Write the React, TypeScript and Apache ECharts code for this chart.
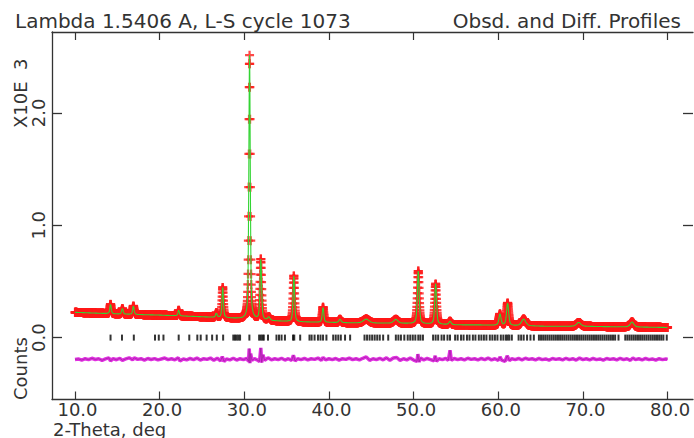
import React, { useEffect, useRef } from "react";
import * as echarts from "echarts";

const TITLE_LEFT = "Lambda 1.5406 A, L-S cycle 1073";
const TITLE_RIGHT = "Obsd. and Diff. Profiles";
const X_NAME = "2-Theta, deg";
const Y_NAME = "Counts";
const Y_SCALE = "X10E  3";

const xTicks = [10, 20, 30, 40, 50, 60, 70, 80];
const yTicks = [0, 1, 2];

// background level (2-theta, counts x10^3)
const bgTheta = [10, 15, 20, 25, 28, 30, 33, 36, 40, 43, 46, 50, 55, 58, 62, 66, 70, 75, 80];
const bgCounts = [0.225, 0.21, 0.2, 0.185, 0.175, 0.165, 0.15, 0.14, 0.135, 0.13, 0.128, 0.125, 0.113, 0.112, 0.105, 0.1, 0.1, 0.095, 0.09];

// Bragg peaks: position, height above background, FWHM
const peakTheta = [14.2, 15.6, 16.9, 22.25, 26.7, 27.45, 30.62, 31.95, 32.9, 35.85, 39.3, 41.3, 44.4, 47.9, 50.55, 52.6, 54.3, 60.2, 61.1, 63.0, 69.5, 75.8];
const peakHeight = [0.085, 0.05, 0.075, 0.05, 0.04, 0.27, 2.35, 0.54, 0.03, 0.41, 0.135, 0.03, 0.035, 0.035, 0.47, 0.36, 0.03, 0.1, 0.2, 0.06, 0.035, 0.045];
const peakFwhm = [0.2, 0.2, 0.2, 0.2, 0.2, 0.2, 0.2, 0.22, 0.3, 0.22, 0.22, 0.3, 0.8, 0.6, 0.25, 0.25, 0.3, 0.3, 0.3, 0.6, 0.6, 0.5];

// reflection positions (tick marks)
const reflections = [
  14.2, 15.55, 16.95, 19.45, 19.9, 20.45, 22.25, 23.5, 24.45, 24.85, 25.55, 26.2, 26.75, 27.5,
  28.7, 28.9, 29.1, 29.3, 29.5, 30.6, 31.75, 31.95, 32.15, 32.3, 32.8, 33.8, 34.1, 34.4, 34.8,
  35.75, 35.9, 36.6, 37.7, 37.95, 38.3, 38.7, 39.0, 39.3, 39.7, 40.5, 40.8, 41.1, 41.4, 41.9,
  42.5, 44.2, 44.5, 44.8, 45.1, 45.4, 45.7, 46.0, 46.4, 47.0, 47.9, 48.2, 48.5, 48.9, 49.3,
  49.6, 49.9, 50.2, 50.55, 50.8, 51.1, 52.3, 52.6, 52.9, 53.3, 53.6, 54.0, 54.3, 54.9, 55.2,
  55.6, 55.9, 56.3, 56.6, 57.0, 57.3, 57.7, 58.0, 58.3, 58.6, 59.0, 59.3, 59.6, 59.9, 60.3,
  60.6, 60.9, 61.1, 61.3, 61.6, 62.4, 62.7, 63.0, 63.4, 63.8, 64.2, 64.8, 65.05, 65.3, 65.55,
  65.8, 66.05, 66.3, 66.55, 66.8, 67.05, 67.3, 67.55, 67.8, 68.05, 68.3, 68.55, 68.8, 69.05,
  69.3, 69.55, 69.8, 70.05, 70.3, 70.55, 70.8, 71.05, 71.3, 71.55, 71.8, 72.05, 72.3, 72.55,
  72.8, 73.05, 73.3, 73.55, 73.8, 74.2, 75.0, 75.25, 75.5, 75.75, 76.0, 76.25, 76.5, 76.75,
  77.0, 77.25, 77.5, 77.75, 78.0, 78.25, 78.5, 78.75, 79.0, 79.25, 79.5, 79.9,
];

// difference profile (obs - calc, offset)
const diffProfile: [number, number][] = [
  [10.0, -0.194], [10.4, -0.19], [10.8, -0.2], [11.2, -0.188], [11.6, -0.196], [12.0, -0.184],
  [12.4, -0.195], [12.8, -0.188], [13.2, -0.202], [13.6, -0.19], [14.0, -0.18], [14.2, -0.208],
  [14.5, -0.187], [14.9, -0.197], [15.3, -0.184], [15.6, -0.202], [16.0, -0.19], [16.4, -0.18],
  [16.8, -0.198], [17.0, -0.18], [17.4, -0.194], [17.8, -0.188], [18.2, -0.2], [18.6, -0.186],
  [19.0, -0.195], [19.4, -0.187], [19.8, -0.198], [20.2, -0.19], [20.6, -0.182], [21.0, -0.196],
  [21.4, -0.188], [21.8, -0.198], [22.2, -0.18], [22.4, -0.207], [22.8, -0.19], [23.2, -0.198],
  [23.6, -0.186], [24.0, -0.196], [24.4, -0.182], [24.8, -0.2], [25.2, -0.188], [25.6, -0.194],
  [26.0, -0.182], [26.4, -0.202], [26.8, -0.184], [27.2, -0.206], [27.4, -0.17], [27.6, -0.212],
  [27.9, -0.19], [28.3, -0.198], [28.7, -0.184], [29.1, -0.2], [29.5, -0.188], [29.9, -0.196],
  [30.3, -0.184], [30.5, -0.212], [30.58, -0.097], [30.66, -0.227], [30.75, -0.142], [30.9, -0.202],
  [31.2, -0.188], [31.5, -0.198], [31.8, -0.212], [31.95, -0.092], [32.05, -0.222], [32.2, -0.152],
  [32.4, -0.202], [32.8, -0.18], [33.2, -0.198], [33.6, -0.188], [34.0, -0.196], [34.4, -0.184],
  [34.8, -0.2], [35.2, -0.188], [35.6, -0.202], [35.8, -0.157], [36.0, -0.208], [36.3, -0.188],
  [36.7, -0.196], [37.1, -0.186], [37.5, -0.198], [37.9, -0.188], [38.3, -0.194], [38.7, -0.182],
  [39.1, -0.202], [39.3, -0.177], [39.6, -0.198], [40.0, -0.188], [40.4, -0.196], [40.8, -0.186],
  [41.2, -0.2], [41.6, -0.188], [42.0, -0.194], [42.4, -0.182], [42.8, -0.196], [43.2, -0.188],
  [43.6, -0.198], [44.0, -0.184], [44.4, -0.172], [44.8, -0.202], [45.2, -0.188], [45.6, -0.196],
  [46.0, -0.184], [46.4, -0.198], [46.8, -0.18], [47.2, -0.202], [47.6, -0.182], [48.0, -0.177],
  [48.4, -0.202], [48.8, -0.188], [49.2, -0.198], [49.6, -0.182], [50.0, -0.2], [50.4, -0.212],
  [50.5, -0.147], [50.65, -0.217], [50.8, -0.182], [51.2, -0.198], [51.6, -0.186], [52.0, -0.196],
  [52.4, -0.207], [52.55, -0.162], [52.7, -0.212], [53.0, -0.188], [53.4, -0.196], [53.8, -0.184],
  [54.1, -0.202], [54.3, -0.112], [54.45, -0.202], [54.8, -0.186], [55.2, -0.196], [55.6, -0.188],
  [56.0, -0.198], [56.4, -0.184], [56.8, -0.194], [57.2, -0.188], [57.6, -0.198], [58.0, -0.186],
  [58.4, -0.196], [58.8, -0.182], [59.2, -0.198], [59.6, -0.188], [60.0, -0.202], [60.2, -0.172],
  [60.4, -0.2], [60.8, -0.212], [61.05, -0.162], [61.3, -0.204], [61.6, -0.188], [62.0, -0.196],
  [62.4, -0.186], [62.8, -0.198], [63.2, -0.184], [63.6, -0.194], [64.0, -0.188], [64.4, -0.198],
  [64.8, -0.186], [65.2, -0.196], [65.6, -0.19], [66.0, -0.2], [66.4, -0.186], [66.8, -0.194],
  [67.2, -0.188], [67.6, -0.198], [68.0, -0.184], [68.4, -0.196], [68.8, -0.188], [69.2, -0.2],
  [69.6, -0.182], [70.0, -0.196], [70.4, -0.188], [70.8, -0.198], [71.2, -0.186], [71.6, -0.196],
  [72.0, -0.19], [72.4, -0.2], [72.8, -0.186], [73.2, -0.194], [73.6, -0.188], [74.0, -0.198],
  [74.4, -0.184], [74.8, -0.196], [75.2, -0.188], [75.6, -0.202], [75.9, -0.182], [76.2, -0.196],
  [76.6, -0.188], [77.0, -0.198], [77.4, -0.186], [77.8, -0.196], [78.2, -0.19], [78.6, -0.2],
  [79.0, -0.188], [79.4, -0.196], [79.8, -0.19], [80.0, -0.194],
];

const SCAN_START = 10;
const SCAN_END = 80;
const SCAN_STEP = 0.02;

function background(t: number): number {
  for (let i = 0; i < bgTheta.length - 1; i++) {
    if (t <= bgTheta[i + 1]) {
      const f = (t - bgTheta[i]) / (bgTheta[i + 1] - bgTheta[i]);
      return bgCounts[i] + f * (bgCounts[i + 1] - bgCounts[i]);
    }
  }
  return bgCounts[bgCounts.length - 1];
}

function profile(t: number): number {
  let y = background(t);
  for (let i = 0; i < peakTheta.length; i++) {
    const u = (t - peakTheta[i]) / peakFwhm[i];
    const g = Math.exp(-4 * Math.LN2 * u * u);
    const l = 1 / (1 + 4 * u * u);
    y += peakHeight[i] * (0.5 * g + 0.5 * l);
  }
  return y;
}

const FONT = "DejaVu Sans";
const TXT = "#333";
const AX = "#333";

export default function App() {
  const ref = useRef<HTMLDivElement>(null);
  useEffect(() => {
    if (!ref.current) return;
    const chart = echarts.init(ref.current, undefined, { renderer: "svg" });
    const n = Math.round((SCAN_END - SCAN_START) / SCAN_STEP);
    const obs: [number, number][] = [];
    for (let i = 0; i <= n; i++) {
      const t = SCAN_START + i * SCAN_STEP;
      obs.push([t, profile(t)]);
    }
    const xMin = 7.285;
    const xMax = 83.0;
    const yMin = -0.551;
    const yMax = 2.72;
    const plus = "path://M3,0H5V3H8V5H5V8H3V5H0V3H3Z";
    const axisLine = { show: true, onZero: false, lineStyle: { color: AX, width: 1.3 } };
    chart.setOption({
      animation: false,
      backgroundColor: "#fff",
      grid: { left: 52, top: 32, right: 1, bottom: 38.5 },
      xAxis: [
        {
          type: "value", min: xMin, max: xMax, position: "bottom",
          axisLine,
          axisTick: { show: true, inside: true, length: 8, customValues: xTicks, lineStyle: { color: AX, width: 1.2 } },
          axisLabel: {
            show: true, customValues: xTicks, margin: 1, padding: [0, 0, 0, 5],
            formatter: (v: number) => v.toFixed(1),
            fontFamily: FONT, fontSize: 18, lineHeight: 17, color: TXT,
          },
          splitLine: { show: false },
        },
        {
          type: "value", min: xMin, max: xMax, position: "top",
          axisLine,
          axisTick: { show: true, inside: true, length: 8, customValues: xTicks, lineStyle: { color: AX, width: 1.2 } },
          axisLabel: { show: false },
          splitLine: { show: false },
        },
      ],
      yAxis: [
        {
          type: "value", min: yMin, max: yMax, position: "left",
          axisLine,
          axisTick: { show: false },
          axisLabel: {
            show: true, customValues: yTicks, rotate: 90, margin: 5,
            formatter: (v: number) => v.toFixed(1),
            fontFamily: FONT, fontSize: 18, color: TXT,
          },
          splitLine: { show: false },
        },
        {
          type: "value", min: yMin, max: yMax, position: "right", gridIndex: 0,
          axisLine: { show: true, onZero: false, lineStyle: { color: "#ffffff", width: 1 } },
          axisTick: { show: true, inside: true, length: 10, customValues: yTicks, lineStyle: { color: AX, width: 1.3 } },
          axisLabel: { show: false },
          splitLine: { show: false },
        },
        {
          type: "value", min: yMin, max: yMax, position: "left", gridIndex: 0, offset: -10,
          axisLine: { show: true, onZero: false, lineStyle: { color: "rgba(255,255,255,0)", width: 1 } },
          axisTick: { show: true, inside: false, length: 10, customValues: yTicks, lineStyle: { color: AX, width: 1.3 } },
          axisLabel: { show: false },
          splitLine: { show: false },
        },
      ],
      graphic: [
        { type: "text", left: 15, top: 11, style: { text: TITLE_LEFT, font: `20px '${FONT}'`, fill: TXT } },
        { type: "text", right: 13, top: 11, style: { text: TITLE_RIGHT, font: `20px '${FONT}'`, fill: TXT } },
        { type: "text", left: 53, top: 420, style: { text: X_NAME, font: `18px '${FONT}'`, lineHeight: 18, fill: TXT } },
        {
          type: "text", x: 20, y: 400, rotation: Math.PI / 2,
          style: { text: Y_NAME, font: `18px '${FONT}'`, fill: TXT, align: "left", verticalAlign: "middle" },
        },
        {
          type: "text", x: 20, y: 128, rotation: Math.PI / 2,
          style: { text: Y_SCALE, font: `18px '${FONT}'`, fill: TXT, align: "left", verticalAlign: "middle" },
        },
      ],
      series: [
        {
          name: "Obsd", type: "scatter", data: obs, symbol: plus, symbolSize: 9,
          itemStyle: { color: "#ff1a1a" }, progressive: 0, large: false, silent: true, z: 2,
        },
        {
          name: "Calc", type: "line", data: obs, showSymbol: false, silent: true, z: 3,
          lineStyle: { color: "#33d433", width: 1.1 },
        },
        {
          name: "Reflections", type: "scatter", data: reflections.map((t) => [t, 0]),
          symbol: "rect", symbolSize: [2, 6], itemStyle: { color: "#000" }, silent: true, z: 2,
        },
        {
          name: "Diff", type: "line", data: diffProfile, showSymbol: false, silent: true, z: 2,
          lineStyle: { color: "#e030e0", width: 3.5 },
        },
        {
          name: "DiffCore", type: "line", data: diffProfile, showSymbol: false, silent: true, z: 3,
          lineStyle: { color: "#8a1f8a", width: 0.8, opacity: 0.7 },
        },
        {
          name: "RightAxisAnchor", type: "line", yAxisIndex: 1, data: [], showSymbol: false, silent: true,
        },
        {
          name: "LeftTickAnchor", type: "line", yAxisIndex: 2, data: [], showSymbol: false, silent: true,
        },
      ],
    });
    return () => chart.dispose();
  }, []);
  return (
    <div
      ref={ref}
      style={{ position: "absolute", left: 0, top: 0, width: 694, height: 438, background: "#fff" }}
    />
  );
}
